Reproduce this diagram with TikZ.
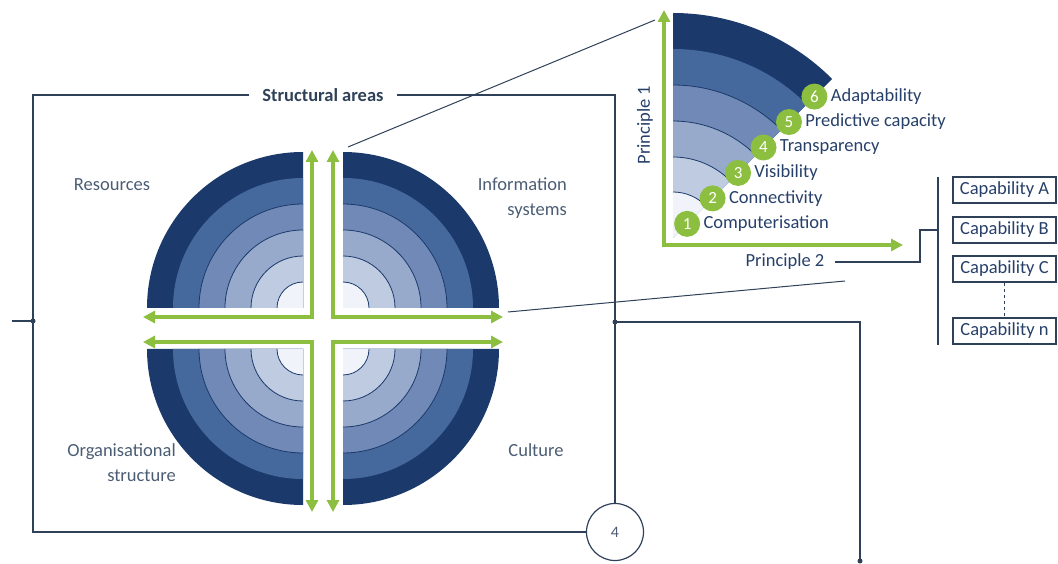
\documentclass[tikz,border=0pt]{standalone}
\usepackage{fontspec}
\setmainfont{Carlito}
\usetikzlibrary{arrows.meta,positioning}
\definecolor{leaf}{HTML}{8CBF3F}
\definecolor{navy}{HTML}{1B3A6B}
\definecolor{bandA}{HTML}{F0F3F9}
\definecolor{bandB}{HTML}{BFCBE1}
\definecolor{bandC}{HTML}{97AACB}
\definecolor{bandD}{HTML}{7089B6}
\definecolor{bandE}{HTML}{46699D}
\definecolor{framecol}{HTML}{2F4158}
\definecolor{ink}{HTML}{4B5D74}
\definecolor{deepink}{HTML}{27406A}
\tikzset{
  frame/.style={draw=framecol, line width=1.3pt},
  gbar/.style={draw=leaf, line width=4pt, line join=miter},
  lbl/.style={text=ink, font=\fontsize{18.5}{25}\selectfont, inner sep=1pt},
  stage/.style={text=deepink, font=\fontsize{18.5}{22}\selectfont, inner sep=1pt},
  num/.style={circle, fill=leaf, text=white, minimum size=26pt, inner sep=0pt,
    font=\fontsize{17}{17}\selectfont},
  capbox/.style={draw=framecol, line width=1.1pt, minimum width=103pt, minimum height=26pt,
    inner sep=1pt, text=deepink, font=\fontsize{18.5}{20}\selectfont}
}

\begin{document}
\begin{tikzpicture}[x=1pt, y=1pt, >={Triangle[length=12pt, width=12pt]}]
    \useasboundingbox (0,0) rectangle (1058,563);

    \foreach \cx/\cy/\a in {303/255/90, 343/255/0, 303/214/180, 343/214/270} {
        \foreach \r/\col in {156/navy, 130/bandE, 104/bandD, 78/bandC, 52/bandB, 26/bandA}
            \fill[\col] (\cx,\cy) -- ++(\a:\r) arc[start angle=\a, delta angle=90, radius=\r] -- cycle;
        \foreach \r in {26, 52, 78, 104}
            \draw[navy, line width=0.8pt] (\cx,\cy) ++(\a:\r) arc[start angle=\a, delta angle=90, radius=\r];
    }

    \draw[gbar, <->] (143,246) -- (312,246) -- (312,413);
    \draw[gbar, <->] (333,413) -- (333,246) -- (503,246);
    \draw[gbar, <->] (143,221) -- (312,221) -- (312,51);
    \draw[gbar, <->] (503,221) -- (333,221) -- (333,51);

    \node[lbl] (res) at (112,378) {Resources};
    \node[lbl, align=right, anchor=east] (info) at (568,365) {Information\\systems};
    \node[lbl, align=right, anchor=east] (org) at (177,100) {Organisational\\structure};
    \node[lbl] (cul) at (536,113) {Culture};

    \node[text=framecol, font=\bfseries\fontsize{18.5}{20}\selectfont, inner xsep=13pt] (sa) at (323,468) {Structural areas};
    \node[circle, draw=framecol, line width=1.2pt, minimum size=57pt, inner sep=0pt,
        text=ink, font=\fontsize{16}{16}\selectfont] (c4) at (615,31) {4};
    \coordinate (tl) at (33,468);
    \coordinate (tr) at (615,468);
    \coordinate (bl) at (33,31);
    \draw[frame] (sa.west) -- (tl) -- (bl) -- (c4.west);
    \draw[frame] (sa.east) -- (tr) -- (c4.north);

    \coordinate (lstub) at (12,242);
    \coordinate (ldot) at (33,242);
    \draw[frame] (lstub) -- (ldot);
    \fill[framecol] (ldot) circle (2.5);
    \coordinate (rdot) at (615,241);
    \coordinate (rturn) at (860,241);
    \coordinate (bdot) at (860,2);
    \draw[frame] (rdot) -- (rturn) -- (bdot);
    \fill[framecol] (rdot) circle (2.5);
    \fill[framecol] (bdot) circle (2.5);

    \coordinate (qtop) at (348,416);
    \coordinate (ztop) at (655,543);
    \coordinate (qside) at (508,251);
    \coordinate (zside) at (845,282);
    \draw[framecol, line width=1pt] (qtop) -- (ztop);
    \draw[framecol, line width=1pt] (qside) -- (zside);

    \begin{scope}[shift={(673,325)}]
        \foreach \r/\col in {225/navy, 189/bandE, 153/bandD, 117/bandC, 81/bandB, 46/bandA}
            \fill[\col] (0,0) -- (45:\r) arc[start angle=45, delta angle=45, radius=\r] -- cycle;
        \foreach \r in {46, 81, 117, 153}
            \draw[navy, line width=0.8pt] (45:\r) arc[start angle=45, delta angle=45, radius=\r];
        \foreach \k/\lab [evaluate=\k as \rr using 20+36*(\k-1)] in
            {1/Computerisation, 2/Connectivity, 3/Visibility, 4/Transparency, 5/Predictive capacity, 6/Adaptability} {
            \node[num] (n\k) at (45:\rr) {\k};
            \node[stage, right=2pt of n\k] (s\k) {\lab};
        }
    \end{scope}

    \draw[gbar, <->] (664,553) -- (664,318) -- (903,318);
    \node[stage, rotate=90] (p1) at (645,438) {Principle 1};
    \node[stage] (p2) at (785,301) {Principle 2};

    \node[capbox] (capA) at (1004.5,373) {Capability A};
    \node[capbox] (capB) at (1004.5,333) {Capability B};
    \node[capbox] (capC) at (1004.5,294) {Capability C};
    \node[capbox] (capN) at (1004.5,232) {Capability n};
    \draw[framecol, line width=1.1pt, dashed] (capC.south) -- (capN.north);

    \coordinate (bartop) at (938,386);
    \coordinate (barmid) at (938,333);
    \coordinate (barbot) at (938,218);
    \draw[frame] (bartop) -- (barbot);
    \draw[frame] ([xshift=9pt]p2.east) -- (920,301) |- (barmid);
\end{tikzpicture}
\end{document}
